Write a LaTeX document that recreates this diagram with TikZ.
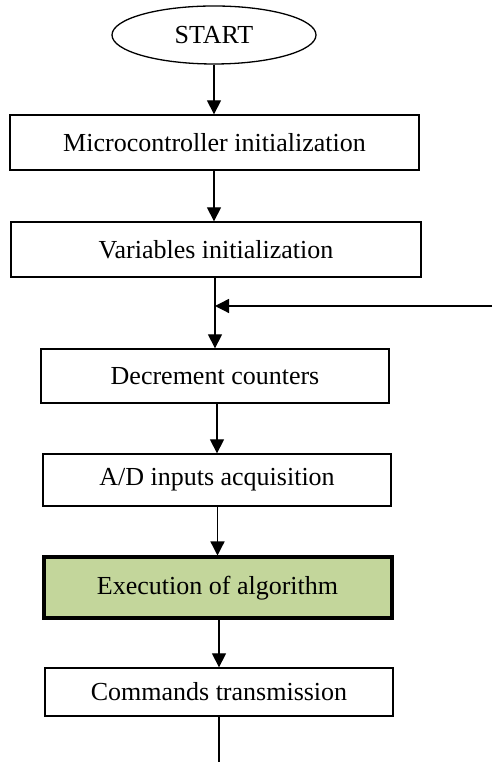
\documentclass[tikz,border=0pt]{standalone}
\usepackage{fontspec}
\setmainfont{Liberation Serif}
\usetikzlibrary{arrows.meta,shapes.geometric}
\definecolor{algogreen}{RGB}{195,214,155}

\tikzset{
  flowbox/.style={draw,line width=1.3pt,rectangle,inner sep=0pt,
    font=\fontsize{26}{30}\selectfont},
  flowarrow/.style={line width=1.3pt,-{Triangle[length=14pt,width=14pt]}},
}

\begin{document}
\begin{tikzpicture}[x=1pt,y=1pt]
\useasboundingbox (0,0) rectangle (492,762);
% main sequence of the program
\node[flowbox,ellipse,minimum width=204pt,minimum height=58pt] (start) at (214,727) {START};
\node[flowbox,minimum width=409pt,minimum height=55pt] (micro) at (214.5,619.5) {Microcontroller initialization};
\node[flowbox,minimum width=410pt,minimum height=55pt] (vars) at (216,512.5) {Variables initialization};
\node[flowbox,minimum width=348pt,minimum height=54pt] (decr) at (215,386) {Decrement counters};
\node[flowbox,minimum width=348pt,minimum height=52pt] (adin) at (217,282) {A/D inputs acquisition};
\node[flowbox,line width=4pt,fill=algogreen,minimum width=348pt,minimum height=61pt] (algo) at (217.5,174) {Execution of algorithm};
\node[flowbox,minimum width=348pt,minimum height=48pt] (cmds) at (219,70) {Commands transmission};

% connectors
\draw[flowarrow] (start.south) -- (start.south |- micro.north);
\draw[flowarrow] (start.south |- micro.south) -- (start.south |- vars.north);
\draw[flowarrow] (decr.north |- vars.south) -- (decr.north);
\draw[flowarrow] (adin.north |- decr.south) -- (adin.north);
\draw[flowarrow] (algo.north |- adin.south) -- (algo.north);
\draw[flowarrow] (cmds.north |- algo.south) -- (cmds.north);

% loop back from the end of the cycle
\coordinate (loopin) at (492,456);
\coordinate (loopjoin) at (decr.north |- loopin);
\draw[flowarrow] (loopin) -- (loopjoin);
\coordinate (tail) at (cmds.south |- 0,0);
\draw[line width=1.3pt] (cmds.south) -- (tail);
\end{tikzpicture}
\end{document}
